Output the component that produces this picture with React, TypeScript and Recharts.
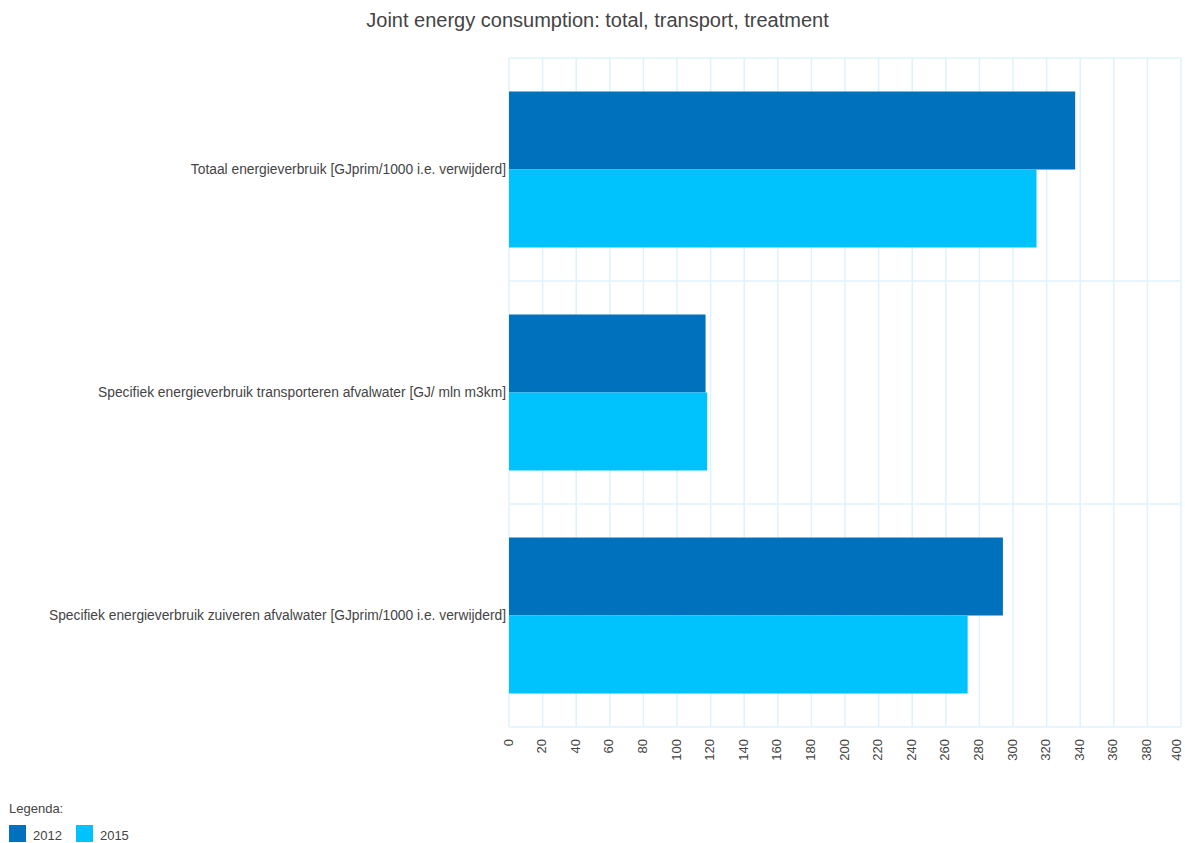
import React from "react";
import { Bar, BarChart, CartesianGrid, XAxis, YAxis } from "recharts";

const categories = [
  "Totaal energieverbruik [GJprim/1000 i.e. verwijderd]",
  "Specifiek energieverbruik transporteren afvalwater [GJ/ mln m3km]",
  "Specifiek energieverbruik zuiveren afvalwater [GJprim/1000 i.e. verwijderd]",
];
const values2012 = [337, 117, 294];
const values2015 = [314, 118, 273];
const xTicks = [
  0, 20, 40, 60, 80, 100, 120, 140, 160, 180, 200, 220, 240, 260, 280, 300,
  320, 340, 360, 380, 400,
];

const series = [
  { key: "y2012", name: "2012", color: "#0071bc" },
  { key: "y2015", name: "2015", color: "#00c3fd" },
];

const data = categories.map((name, i) => ({
  name,
  y2012: values2012[i],
  y2015: values2015[i],
}));

const WIDTH = 1185;
const HEIGHT = 843;
const FONT = "'Liberation Sans', Arial, sans-serif";
const TEXT = "#444";
const GRID = "#dff3fc";

// x ticks are drawn rotated, reading bottom to top, ending just under the axis;
// the last one is nudged in so it stays inside the svg
const RotatedTick = (props: any) => {
  const { x, y, payload } = props;
  const tx = Math.min(x - 1, WIDTH - 9);
  const ty = y + 4;
  return (
    <text
      x={tx}
      y={ty}
      transform={`rotate(-90 ${tx} ${ty})`}
      textAnchor="end"
      dominantBaseline="central"
      fontSize={13}
      fontFamily={FONT}
      fill={TEXT}
    >
      {payload.value}
    </text>
  );
};

const LegendBox = () => (
  <div
    style={{
      position: "absolute",
      left: 9,
      top: 801,
      fontFamily: FONT,
      fontSize: 13,
      color: TEXT,
    }}
  >
    <div style={{ marginBottom: 7 }}>Legenda:</div>
    <div style={{ display: "flex", alignItems: "center" }}>
      {series.map((s) => (
        <div
          key={s.key}
          style={{ display: "flex", alignItems: "center", marginRight: 14 }}
        >
          <span
            style={{
              width: 17,
              height: 17,
              background: s.color,
              display: "inline-block",
              marginRight: 7,
            }}
          />
          <span style={{ paddingTop: 5 }}>{s.name}</span>
        </div>
      ))}
    </div>
  </div>
);

export default function App() {
  return (
    <div
      style={{
        position: "absolute",
        left: 0,
        top: 0,
        width: WIDTH,
        height: HEIGHT,
        background: "#fff",
        overflow: "hidden",
      }}
    >
      <div
        style={{
          position: "absolute",
          left: 0,
          top: 9,
          width: 1195,
          textAlign: "center",
          fontFamily: FONT,
          fontSize: 20,
          color: TEXT,
        }}
      >
        Joint energy consumption: total, transport, treatment
      </div>
      <BarChart
        width={WIDTH}
        height={HEIGHT}
        data={data}
        layout="vertical"
        margin={{ top: 58, right: 4, bottom: 76, left: 0 }}
        barCategoryGap="15%"
        barGap={0}
      >
        <CartesianGrid
          stroke={GRID}
          strokeWidth={1.5}
          horizontalCoordinatesGenerator={({ offset }: any) =>
            [0, 1, 2, 3].map((i) => offset.top + (i * offset.height) / 3)
          }
        />
        <XAxis
          type="number"
          domain={[0, 400]}
          ticks={xTicks}
          interval={0}
          axisLine={false}
          tickLine={false}
          height={40}
          tick={<RotatedTick />}
        />
        <YAxis
          type="category"
          dataKey="name"
          width={509}
          axisLine={false}
          tickLine={false}
          tickSize={0}
          tickMargin={3}
          tick={{ fontSize: 13.8, fill: TEXT, fontFamily: FONT }}
        />
        {series.map((s) => (
          <Bar
            key={s.key}
            dataKey={s.key}
            name={s.name}
            fill={s.color}
            isAnimationActive={false}
          />
        ))}
      </BarChart>
      <LegendBox />
    </div>
  );
}
